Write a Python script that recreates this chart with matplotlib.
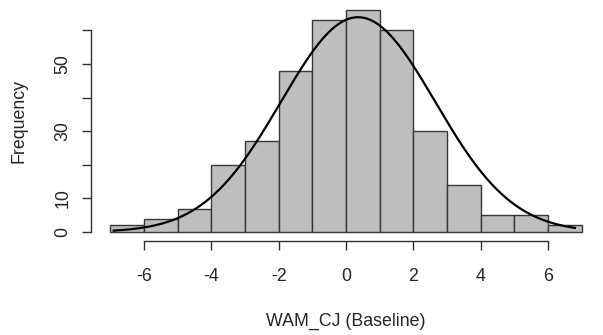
import numpy as np
import matplotlib
matplotlib.use('Agg')
import matplotlib.pyplot as plt

plt.rcParams['font.family'] = ['Liberation Sans', 'DejaVu Sans']

# histogram of WAM_CJ baseline values, bins of width 1
bin_edges = [-7, -6, -5, -4, -3, -2, -1, 0, 1, 2, 3, 4, 5, 6, 7]
counts = [2, 4, 7, 20, 27, 48, 63, 66, 60, 30, 14, 5, 5, 2]

# fitted normal curve
curve_mean = 0.36
curve_sd = 2.29
curve_n = 367
curve_from, curve_to = -6.9, 6.8

x_ticks = [-6, -4, -2, 0, 2, 4, 6]
y_ticks = [0, 10, 20, 30, 40, 50, 60]
y_tick_labels = ['0', '10', '', '30', '', '50', '']

FS = 12.8
TEXT = '#262626'

fig = plt.figure(figsize=(6.03, 3.35), dpi=100)
ax = fig.add_axes([0.1516, 0.2809, 0.8443, 0.7149])

edges = np.array(bin_edges, dtype=float)
ax.bar(edges[:-1], counts, width=np.diff(edges), align='edge',
       color='#bebebe', edgecolor='#383838', linewidth=1.0)

xs = np.linspace(curve_from, curve_to, 400)
ys = curve_n / (curve_sd * np.sqrt(2 * np.pi)) * np.exp(-0.5 * ((xs - curve_mean) / curve_sd) ** 2)
ax.plot(xs, ys, color='black', linewidth=1.6)

# R-like limits: range plus 4%
span = edges[-1] - edges[0]
ax.set_xlim(edges[0] - 0.04 * span, edges[-1] + 0.04 * span)
top = max(counts)
ax.set_ylim(-0.04 * top, top * 1.04)

for side in ['top', 'right']:
    ax.spines[side].set_visible(False)
ax.spines['left'].set_bounds(y_ticks[0], y_ticks[-1])
ax.spines['bottom'].set_bounds(x_ticks[0], x_ticks[-1])
for side in ['left', 'bottom']:
    ax.spines[side].set_color('#333333')
    ax.spines[side].set_linewidth(1.0)

ax.set_xticks(x_ticks)
ax.set_xticklabels([str(t) for t in x_ticks])
ax.set_yticks(y_ticks)
ax.set_yticklabels(y_tick_labels, rotation=90, va='center')
ax.tick_params(axis='both', length=6.5, width=1.0, color='#333333',
               labelsize=FS, labelcolor=TEXT)
ax.tick_params(axis='x', pad=13)
ax.tick_params(axis='y', pad=8)

ax.set_xlabel('WAM_CJ (Baseline)', fontsize=FS, color=TEXT, labelpad=20)
ax.set_ylabel('Frequency', fontsize=FS, color=TEXT, labelpad=19)

fig.savefig('out.png', dpi=100)
